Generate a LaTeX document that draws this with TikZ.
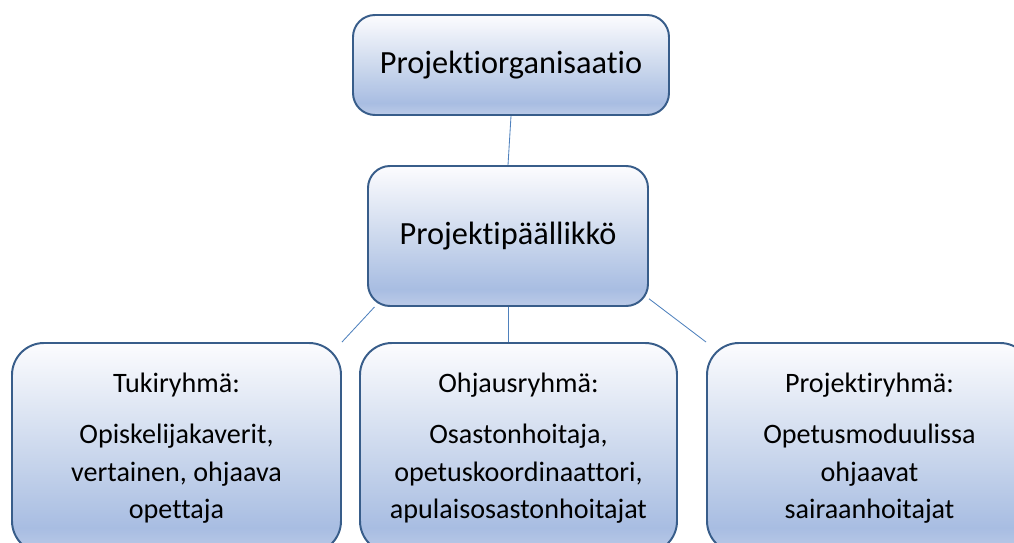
\documentclass[tikz,border=0pt]{standalone}
\usepackage{fontspec}
\setmainfont{Carlito}[Ligatures=NoCommon]
\usetikzlibrary{positioning,backgrounds}
\definecolor{cedge}{HTML}{385D8A}
\definecolor{clink}{HTML}{4F81BD}
\definecolor{cbot}{HTML}{BCCBE8}
\definecolor{clow}{HTML}{A8BDE2}
\definecolor{cmid}{HTML}{C9D6EC}
\definecolor{ctop}{HTML}{FCFCFE}
\pgfdeclareverticalshading{boxfill}{100bp}{color(0bp)=(cbot); color(25bp)=(cbot); color(31bp)=(clow); color(48bp)=(cmid); color(75bp)=(ctop); color(100bp)=(ctop)}
\tikzset{
  topbox/.style={draw=cedge, line width=1.4pt, rounded corners=0.55cm, shading=boxfill, inner sep=0pt, align=center, font=\fontsize{23}{27}\selectfont},
  grpbox/.style={draw=cedge, line width=1.4pt, rounded corners=0.8cm, shading=boxfill, inner sep=0pt, align=center, minimum height=5.25cm, font=\fontsize{20}{26.5}\selectfont},
  link/.style={draw=clink, line width=0.6pt},
}
\begin{document}
\begin{tikzpicture}
    \useasboundingbox (0,0) rectangle (25.35,-13.575);
    \node[topbox, minimum width=7.9cm, minimum height=2.5cm] (org) at (12.775,-1.625) {Projektiorganisaatio};
    \node[topbox, minimum width=7cm, minimum height=3.5cm] (pm) at (12.7,-5.9) {Projektipäällikkö};
    \node[grpbox, minimum width=8.225cm] (tuki) at (4.4125,-11.2) {Tukiryhmä:\\[10pt]Opiskelijakaverit,\\vertainen, ohjaava\\opettaja};
    \node[grpbox, minimum width=7.925cm] (ohj) at (12.9625,-11.2) {Ohjausryhmä:\\[10pt]Osastonhoitaja,\\opetuskoordinaattori,\\apulaisosastonhoitajat};
    \node[grpbox, minimum width=8.125cm] (proj) at (21.7375,-11.2) {Projektiryhmä:\\[10pt]Opetusmoduulissa\\ohjaavat\\sairaanhoitajat};
    \begin{scope}[on background layer]
      \draw[link] (org.south) -- (pm.north);
      \draw[link] (pm.208) -- (tuki.north east);
      \draw[link] (pm.south) -- (pm.south |- ohj.north);
      \draw[link] (pm.336) -- (proj.north west);
    \end{scope}
\end{tikzpicture}
\end{document}
